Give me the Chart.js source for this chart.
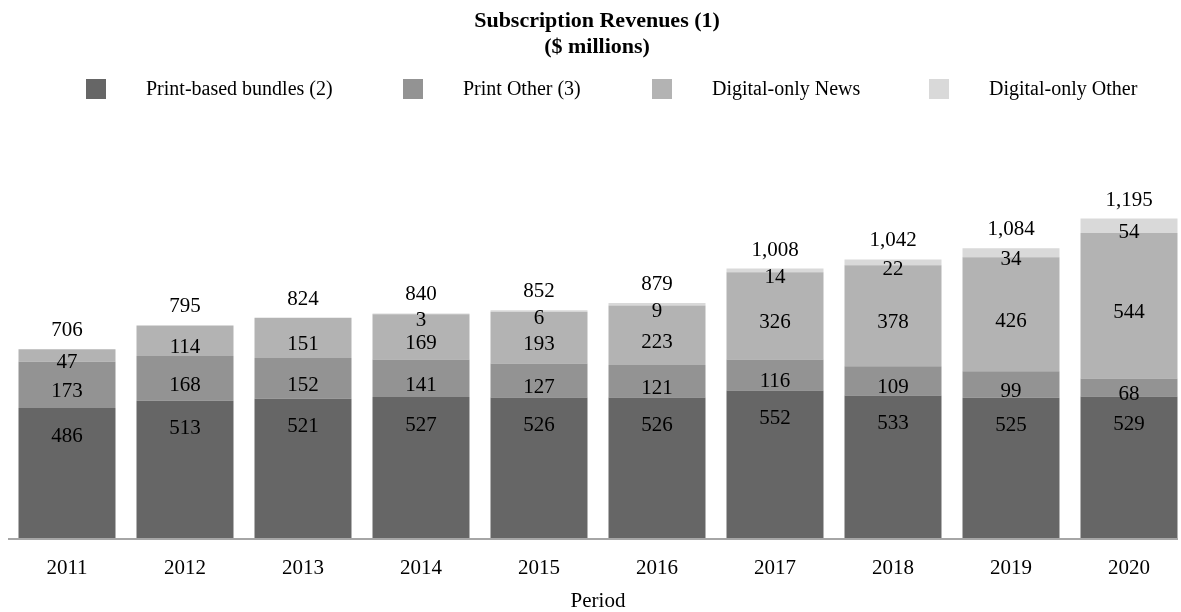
<!DOCTYPE html>
<html>
<head>
<meta charset="utf-8">
<script src="https://cdn.jsdelivr.net/npm/chart.js@4.4.1/dist/chart.umd.min.js"></script>
<style>
html,body{margin:0;padding:0;background:#fff;overflow:hidden}
#wrap{width:1181px;height:612px;overflow:hidden;position:relative}
canvas{display:block}
</style>
</head>
<body>
<div id="wrap"><canvas id="c" width="1190" height="612"></canvas></div>
<script>
const categories = ['2011','2012','2013','2014','2015','2016','2017','2018','2019','2020'];
const printBundles = [486, 513, 521, 527, 526, 526, 552, 533, 525, 529];
const printOther = [173, 168, 152, 141, 127, 121, 116, 109, 99, 68];
const digitalNews = [47, 114, 151, 169, 193, 223, 326, 378, 426, 544];
const digitalOther = [null, null, null, 3, 6, 9, 14, 22, 34, 54];
const totals = [706, 795, 824, 840, 852, 879, 1008, 1042, 1084, 1195];
const seriesNames = ['Print-based bundles (2)', 'Print Other (3)', 'Digital-only News', 'Digital-only Other'];
const seriesColors = ['#666666', '#939393', '#b3b3b3', '#d9d9d9'];
const titleLines = ['Subscription Revenues (1)', '($ millions)'];
const xTitle = 'Period';

const SERIF = '"Liberation Serif", "Times New Roman", serif';

const overlayPlugin = {
  id: 'overlay',
  afterDatasetsDraw(chart) {
    const ctx = chart.ctx;
    const ys = chart.scales.y;
    ctx.save();
    ctx.font = '21px ' + SERIF;
    ctx.fillStyle = '#000';
    ctx.textAlign = 'center';
    ctx.textBaseline = 'middle';
    chart.data.datasets.forEach((ds, i) => {
      const meta = chart.getDatasetMeta(i);
      meta.data.forEach((el, j) => {
        const v = ds.data[j];
        if (v == null) return;
        const y = i === 0 ? el.y + 28 : (el.y + el.base) / 2 + 7;
        ctx.fillText(String(v), el.x, y);
      });
    });
    const m0 = chart.getDatasetMeta(0);
    totals.forEach((t, j) => {
      ctx.fillText(t.toLocaleString('en-US'), m0.data[j].x, ys.getPixelForValue(t) - 18.5);
    });
    // axis baseline
    const area = chart.chartArea;
    ctx.strokeStyle = '#a6a6a6';
    ctx.lineWidth = 2;
    ctx.beginPath();
    ctx.moveTo(area.left, area.bottom + 1);
    ctx.lineTo(1178, area.bottom + 1);
    ctx.stroke();
    ctx.restore();
  },
  afterDraw(chart) {
    const ctx = chart.ctx;
    ctx.save();
    ctx.fillStyle = '#000';
    ctx.textAlign = 'center';
    ctx.textBaseline = 'middle';
    ctx.font = 'bold 22px ' + SERIF;
    ctx.fillText(titleLines[0], 597, 21);
    ctx.fillText(titleLines[1], 597, 47.5);
    // legend
    const sqX = [86, 403, 652, 929];
    ctx.font = '20px ' + SERIF;
    ctx.textAlign = 'left';
    seriesNames.forEach((n, i) => {
      ctx.fillStyle = seriesColors[i];
      ctx.fillRect(sqX[i], 79, 20, 20);
      ctx.fillStyle = '#000';
      ctx.fillText(n, sqX[i] + 60, 89.5);
    });
    ctx.restore();
  }
};

const datasets = [printBundles, printOther, digitalNews, digitalOther].map((d, i) => ({
  label: seriesNames[i],
  data: d,
  backgroundColor: seriesColors[i],
  borderWidth: 0,
  categoryPercentage: 1.0,
  barPercentage: 0.822
}));

new Chart(document.getElementById('c'), {
  type: 'bar',
  data: { labels: categories, datasets },
  options: {
    responsive: false,
    animation: false,
    layout: { padding: { left: 8, right: 2, top: 137, bottom: 0 } },
    plugins: { legend: { display: false }, title: { display: false }, tooltip: { enabled: false } },
    scales: {
      x: {
        stacked: true,
        grid: { display: false, drawTicks: false },
        border: { display: false },
        afterFit(scale) { scale.height = 74; },
        ticks: { color: '#000', padding: 18, font: { family: SERIF, size: 21, lineHeight: 1.2 } },
        title: { display: true, text: xTitle, color: '#000', padding: { top: 12, bottom: 0 }, font: { family: SERIF, size: 21, lineHeight: 1.0 } }
      },
      y: {
        stacked: true,
        display: false,
        min: 0,
        max: 1500
      }
    }
  },
  plugins: [overlayPlugin]
});
</script>
</body>
</html>
